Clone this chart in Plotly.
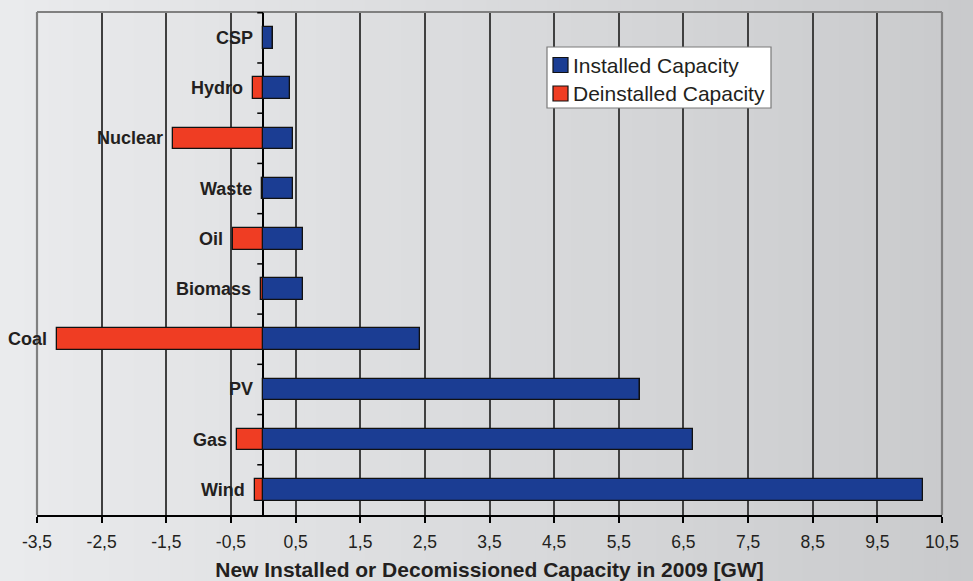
import plotly.graph_objects as go

# Energy sources, listed top to bottom
categories = ["CSP", "Hydro", "Nuclear", "Waste", "Oil", "Biomass", "Coal", "PV", "Gas", "Wind"]
# New installed capacity in 2009 [GW]
installed = [0.15, 0.42, 0.46, 0.46, 0.61, 0.61, 2.42, 5.83, 6.65, 10.20]
# Decommissioned capacity in 2009 [GW] (negative)
deinstalled = [0.0, -0.16, -1.40, -0.02, -0.47, -0.04, -3.19, 0.0, -0.41, -0.12]

tick_vals = [-3.5, -2.5, -1.5, -0.5, 0.5, 1.5, 2.5, 3.5, 4.5, 5.5, 6.5, 7.5, 8.5, 9.5, 10.5]
tick_text = [f"{v:.1f}".replace(".", ",") for v in tick_vals]

BLUE = "#1b3d93"
RED = "#ef3d23"
TEXT = "#231f20"
FONT = "Liberation Sans, Arial, sans-serif"

# plot-area pixel frame in the 973x581 page
W_FIG, H_FIG = 973, 581
L, R, T, B = 37, 942, 12, 515
PW, PH = R - L, B - T


def px_x(p):
    return (p - L) / PW


def px_y(p):
    return (B - p) / PH


fig = go.Figure()

fig.add_trace(go.Bar(
    y=categories, x=installed, orientation="h", name="Installed Capacity",
    marker=dict(color=BLUE, line=dict(color="#111111", width=1.3)),
    width=0.43, showlegend=False,
))
fig.add_trace(go.Bar(
    y=categories, x=deinstalled, orientation="h", name="Deinstalled Capacity",
    marker=dict(color=RED, line=dict(color="#111111", width=1.3)),
    width=0.43, showlegend=False,
))

shapes = []

# horizontal background gradient, light on the left, darker on the right
n_strips = 80
c0 = (234, 235, 237)
c1 = (201, 202, 204)
for i in range(n_strips):
    t = i / (n_strips - 1)
    col = tuple(round(a + (b - a) * t) for a, b in zip(c0, c1))
    x0 = i * W_FIG / n_strips
    x1 = (i + 1) * W_FIG / n_strips + 1
    shapes.append(dict(
        type="rect", xref="paper", yref="paper", layer="below",
        x0=px_x(x0), x1=px_x(x1), y0=px_y(H_FIG + 2), y1=px_y(-2),
        fillcolor=f"rgb{col}", line=dict(width=0),
    ))

# grey frame on top, left and right of the plot area
for (x0, y0, x1, y1) in [(0, 1, 1, 1), (0, 0, 0, 1), (1, 0, 1, 1)]:
    shapes.append(dict(
        type="line", xref="paper", yref="paper", x0=x0, y0=y0, x1=x1, y1=y1,
        line=dict(color="#808080", width=2.2),
    ))

# short ticks on the zero line between categories
for k in range(len(categories)):
    shapes.append(dict(
        type="line", xref="x", yref="y", xsizemode="pixel", xanchor=0,
        x0=-6, x1=0, y0=k - 0.5, y1=k - 0.5,
        line=dict(color="black", width=1.5),
    ))

# legend box
lg_x0, lg_x1, lg_y0, lg_y1 = 547, 771, 47, 108
shapes.append(dict(
    type="rect", xref="paper", yref="paper",
    x0=px_x(lg_x0), x1=px_x(lg_x1), y0=px_y(lg_y1), y1=px_y(lg_y0),
    fillcolor="white", line=dict(color="#7a7a7a", width=1.2),
))
legend_items = [("Installed Capacity", BLUE, 65), ("Deinstalled Capacity", RED, 93.5)]
annotations = []
for label, col, yc in legend_items:
    shapes.append(dict(
        type="rect", xref="paper", yref="paper",
        x0=px_x(553), x1=px_x(568), y0=px_y(yc + 7.5), y1=px_y(yc - 7.5),
        fillcolor=col, line=dict(color="#111111", width=1.2),
    ))
    annotations.append(dict(
        x=px_x(571), y=px_y(yc), xref="paper", yref="paper",
        xanchor="left", yanchor="middle", showarrow=False, text=label,
        font=dict(family=FONT, size=21, color=TEXT),
    ))

# category names to the left of each bar's base
for cat, d in zip(categories, deinstalled):
    annotations.append(dict(
        x=min(d, 0.0), y=cat, xref="x", yref="y",
        xanchor="right", yanchor="middle", xshift=-8, showarrow=False,
        text=f"<b>{cat}</b>",
        font=dict(family=FONT, size=18, color=TEXT),
    ))

fig.update_layout(
    width=W_FIG, height=H_FIG,
    margin=dict(l=L, r=W_FIG - R, t=T, b=H_FIG - B, pad=0, autoexpand=False),
    paper_bgcolor="rgb(217,218,220)",
    plot_bgcolor="rgba(0,0,0,0)",
    barmode="relative",
    bargap=0,
    showlegend=False,
    shapes=shapes,
    annotations=annotations,
    font=dict(family=FONT, color=TEXT),
    xaxis=dict(
        range=[-3.5, 10.5], tickvals=tick_vals, ticktext=tick_text,
        automargin=False,
        showgrid=True, gridcolor="#404040", gridwidth=1.6,
        zeroline=True, zerolinecolor="black", zerolinewidth=1.6,
        showline=True, linecolor="black", linewidth=1.6,
        ticks="outside", ticklen=6, tickwidth=1.5, tickcolor="black",
        tickfont=dict(family=FONT, size=17.5, color=TEXT),
        ticklabelstandoff=4,
        title=dict(
            text="<b>New Installed or Decomissioned Capacity in 2009 [GW]</b>",
            font=dict(family=FONT, size=21, color=TEXT), standoff=20,
        ),
    ),
    yaxis=dict(
        categoryorder="array", categoryarray=categories,
        autorange="reversed", automargin=False,
        showticklabels=False, showgrid=False, zeroline=False, showline=False,
        ticks="",
    ),
)

fig.write_html("out.html")
